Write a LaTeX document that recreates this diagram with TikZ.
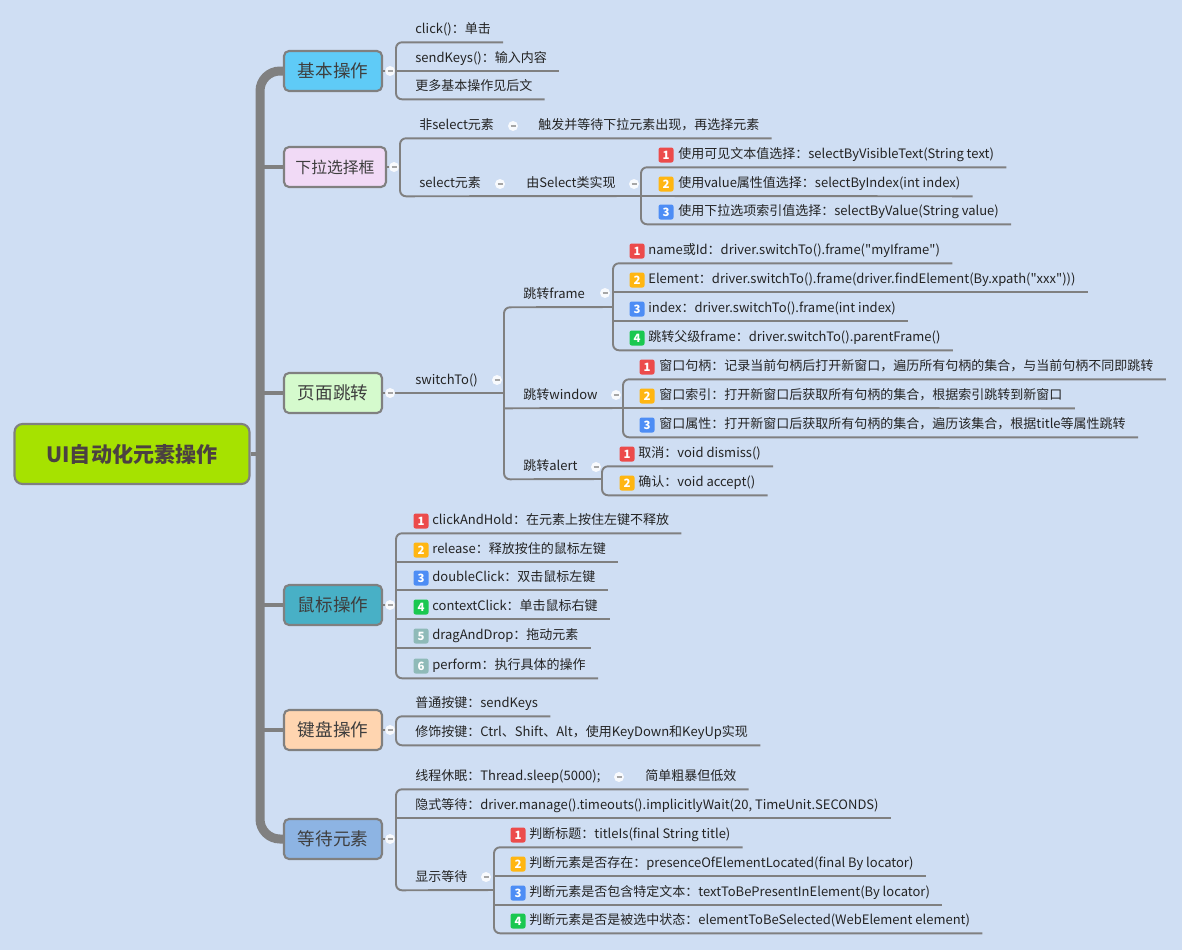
\documentclass[tikz,border=0pt]{standalone}
\usepackage{fontspec}
\setmainfont{Noto Sans CJK SC}[Ligatures=TeXOff]
\usetikzlibrary{calc,positioning}

\definecolor{bgblue}{RGB}{207,222,243}
\definecolor{linegray}{RGB}{128,128,128}
\definecolor{inkgray}{RGB}{35,35,35}
\definecolor{topicink}{RGB}{62,62,62}
\definecolor{rootgreen}{RGB}{166,226,0}
\definecolor{basiccol}{RGB}{95,203,247}
\definecolor{dropcol}{RGB}{241,218,246}
\definecolor{pagecol}{RGB}{213,250,205}
\definecolor{mousecol}{RGB}{72,176,198}
\definecolor{keycol}{RGB}{255,213,176}
\definecolor{waitcol}{RGB}{141,180,227}
\definecolor{bred}{RGB}{236,75,75}
\definecolor{borange}{RGB}{255,182,18}
\definecolor{bblue}{RGB}{77,141,245}
\definecolor{bgreen}{RGB}{26,200,80}
\definecolor{bteal}{RGB}{143,186,184}

\pgfdeclarelayer{back}
\pgfdeclarelayer{lines}
\pgfsetlayers{back,lines,main}

\def\tailgap{0.24cm}

\tikzset{
  rootbox/.style={draw=linegray, line width=1.2pt, fill=rootgreen, rounded corners=0.16cm,
    minimum width=4.7cm, minimum height=1.2cm, text={rgb,255:red,75;green,65;blue,65},
    font=\fontsize{12}{14}\selectfont\bfseries},
  topic/.style={draw=linegray, line width=1.2pt, rounded corners=0.1cm,
    minimum width=1.96cm, minimum height=0.8cm, text=topicink,
    font=\fontsize{10}{12}\selectfont},
  leaf/.style={anchor=west, inner xsep=0pt, inner ysep=3.3pt, text height=5.6pt, text depth=1.4pt,
    text=inkgray, font=\fontsize{7.4}{9}\selectfont},
  badge/.style={rounded corners=1.2pt, minimum size=0.3cm, inner sep=0pt, text=white,
    font=\fontsize{6.5}{7}\selectfont\bfseries},
  fold/.style={circle, fill=white!85!bgblue, minimum size=0.2cm, inner sep=0pt,
    path picture={\draw[linegray!70, line width=0.6pt]
      ($(path picture bounding box.center)-(0.05cm,0)$) -- ($(path picture bounding box.center)+(0.05cm,0)$);}},
  conn/.style={draw=linegray, line width=1.1pt, rounded corners=0.12cm},
  trunk/.style={draw=linegray, line width=0.18cm, rounded corners=0.4cm},
  branch/.style={draw=linegray, line width=0.08cm},
}

\begin{document}
\begin{tikzpicture}[x=0.02cm, y=-0.02cm]
\useasboundingbox (0,0) rectangle (1182,950);
\begin{pgfonlayer}{back}
  \fill[bgblue] (0,0) rectangle (1182,950);
\end{pgfonlayer}

% central topic and main topics
\node[rootbox] (root) at (132,454) {UI自动化元素操作};
\node[topic, fill=basiccol] (basic) at (333,71) {基本操作};
\node[topic, fill=dropcol, minimum width=2.04cm, font=\fontsize{9}{11}\selectfont] (drop) at (335,167) {下拉选择框};
\node[topic, fill=pagecol] (page) at (333,393) {页面跳转};
\node[topic, fill=mousecol] (mouse) at (333,605) {鼠标操作};
\node[topic, fill=keycol] (keys) at (333,730) {键盘操作};
\node[topic, fill=waitcol] (wait) at (333,839) {等待元素};
\foreach \t in {basic,drop,page,mouse,keys,wait}
  \node[fold] (\t-fold) at ([xshift=0.14cm]\t.east) {};

\coordinate (spine) at (260,454);
\coordinate (basicfork) at (396,71);
\coordinate (dropfork) at (400,167);
\coordinate (switchfork) at (504,393);
\coordinate (mousefork) at (396,605);
\coordinate (keysfork) at (396,730);
\coordinate (waitfork) at (396,839);

% basic operations
\node[leaf] (click) at (415,30) {click()：单击};
\node[leaf] (sendkeys) at (415,59) {sendKeys()：输入内容};
\node[leaf] (more) at (415,87) {更多基本操作见后文};

% drop-down box
\node[leaf] (nonsel) at (419,126) {非select元素};
\node[fold] (nonsel-fold) at (513,126) {};
\node[leaf] (trigger) at (538,126) {触发并等待下拉元素出现，再选择元素};
\node[leaf] (sel) at (419,184) {select元素};
\node[fold] (sel-fold) at (500,184) {};
\node[leaf] (selcls) at (526,184) {由Select类实现};
\node[fold] (selcls-fold) at (634,184) {};
\coordinate (selfork) at (641,196);
\node[badge, fill=bred] (vis-no) at (666,155) {1};
\node[leaf] (vis) at (678,155) {使用可见文本值选择：selectByVisibleText(String text)};
\node[badge, fill=borange] (idx-no) at (666,184) {2};
\node[leaf] (idx) at (678,184) {使用value属性值选择：selectByIndex(int index)};
\node[badge, fill=bblue] (val-no) at (666,212) {3};
\node[leaf] (val) at (678,212) {使用下拉选项索引值选择：selectByValue(String value)};

% page switching
\node[leaf] (switch) at (415,381) {switchTo()};
\node[fold] (switch-fold) at (497,380) {};
\node[leaf] (frame) at (523,295) {跳转frame};
\node[fold] (frame-fold) at (605,293) {};
\coordinate (framefork) at (613,307);
\node[badge, fill=bred] (f1-no) at (637,251) {1};
\node[leaf] (f1) at (648,251) {name或Id：driver.switchTo().frame("myIframe")};
\node[badge, fill=borange] (f2-no) at (637,280) {2};
\node[leaf] (f2) at (648,280) {Element：driver.switchTo().frame(driver.findElement(By.xpath("xxx")))};
\node[badge, fill=bblue] (f3-no) at (637,309) {3};
\node[leaf] (f3) at (648,309) {index：driver.switchTo().frame(int index)};
\node[badge, fill=bgreen] (f4-no) at (637,338) {4};
\node[leaf] (f4) at (648,338) {跳转父级frame：driver.switchTo().parentFrame()};
\node[leaf] (window) at (523,396) {跳转window};
\node[fold] (window-fold) at (616,395) {};
\coordinate (windowfork) at (623,408);
\node[badge, fill=bred] (w1-no) at (647,367) {1};
\node[leaf] (w1) at (659,367) {窗口句柄：记录当前句柄后打开新窗口，遍历所有句柄的集合，与当前句柄不同即跳转};
\node[badge, fill=borange] (w2-no) at (647,396) {2};
\node[leaf] (w2) at (659,396) {窗口索引：打开新窗口后获取所有句柄的集合，根据索引跳转到新窗口};
\node[badge, fill=bblue] (w3-no) at (647,425) {3};
\node[leaf] (w3) at (659,425) {窗口属性：打开新窗口后获取所有句柄的集合，遍历该集合，根据title等属性跳转};
\node[leaf] (alert) at (523,467) {跳转alert};
\node[fold] (alert-fold) at (596,467) {};
\coordinate (alertfork) at (602,479);
\node[badge, fill=bred] (a1-no) at (627,454) {1};
\node[leaf] (a1) at (638,454) {取消：void dismiss()};
\node[badge, fill=borange] (a2-no) at (627,483) {2};
\node[leaf] (a2) at (638,483) {确认：void accept()};

% mouse operations
\node[badge, fill=bred] (m1-no) at (421,521) {1};
\node[leaf] (m1) at (432,521) {clickAndHold：在元素上按住左键不释放};
\node[badge, fill=borange] (m2-no) at (421,550) {2};
\node[leaf] (m2) at (432,550) {release：释放按住的鼠标左键};
\node[badge, fill=bblue] (m3-no) at (421,578) {3};
\node[leaf] (m3) at (432,578) {doubleClick：双击鼠标左键};
\node[badge, fill=bgreen] (m4-no) at (421,607) {4};
\node[leaf] (m4) at (432,607) {contextClick：单击鼠标右键};
\node[badge, fill=bteal] (m5-no) at (421,636) {5};
\node[leaf] (m5) at (432,636) {dragAndDrop：拖动元素};
\node[badge, fill=bteal] (m6-no) at (421,666) {6};
\node[leaf] (m6) at (432,666) {perform：执行具体的操作};

% keyboard operations
\node[leaf] (plain) at (415,704) {普通按键：sendKeys};
\node[leaf] (modkeys) at (415,733) {修饰按键：Ctrl、Shift、Alt，使用KeyDown和KeyUp实现};

% waiting
\node[leaf] (sleep) at (415,777) {线程休眠：Thread.sleep(5000);};
\node[fold] (sleep-fold) at (619,777) {};
\node[leaf] (crude) at (645,777) {简单粗暴但低效};
\node[leaf] (implicit) at (415,806) {隐式等待：driver.manage().timeouts().implicitlyWait(20, TimeUnit.SECONDS)};
\node[leaf] (explicit) at (415,878) {显示等待};
\node[fold] (explicit-fold) at (486,877) {};
\coordinate (explicitfork) at (494,890);
\node[badge, fill=bred] (e1-no) at (518,835) {1};
\node[leaf] (e1) at (529,835) {判断标题：titleIs(final String title)};
\node[badge, fill=borange] (e2-no) at (518,864) {2};
\node[leaf] (e2) at (529,864) {判断元素是否存在：presenceOfElementLocated(final By locator)};
\node[badge, fill=bblue] (e3-no) at (518,893) {3};
\node[leaf] (e3) at (529,893) {判断元素是否包含特定文本：textToBePresentInElement(By locator)};
\node[badge, fill=bgreen] (e4-no) at (518,921) {4};
\node[leaf] (e4) at (529,921) {判断元素是否是被选中状态：elementToBeSelected(WebElement element)};

% connectors
\begin{pgfonlayer}{lines}
  \draw[trunk] (basic.west) -- (basic.west -| spine) -- (wait.west -| spine) -- (wait.west);
  \draw[branch] (root.east) -- (spine);
  \foreach \t in {drop,page,mouse,keys}
    \draw[branch] (\t.west -| spine) -- (\t.west);

  \draw[conn] (basic.east) -- (basicfork);
  \draw[conn] ([xshift=\tailgap]click.south east) -- (click.south -| basicfork) -- (more.south -| basicfork) -- ([xshift=\tailgap]more.south east);
  \draw[conn] (sendkeys.south -| basicfork) -- ([xshift=\tailgap]sendkeys.south east);

  \draw[conn] (drop.east) -- (dropfork);
  \draw[conn] ([xshift=\tailgap]trigger.south east) -- (nonsel.south -| dropfork) -- (sel.south -| dropfork) -- (selfork);
  \draw[conn] ([xshift=\tailgap]vis.south east) -- (vis.south -| selfork) -- (val.south -| selfork) -- ([xshift=\tailgap]val.south east);
  \draw[conn] (selfork) -- ([xshift=\tailgap]idx.south east);

  \draw[conn] (page.east) -- (switchfork);
  \draw[conn] (framefork) -- (frame.south -| switchfork) -- (alert.south -| switchfork) -- (alertfork);
  \draw[conn] (window.south -| switchfork) -- (windowfork);
  \draw[conn] ([xshift=\tailgap]f1.south east) -- (f1.south -| framefork) -- (f4.south -| framefork) -- ([xshift=\tailgap]f4.south east);
  \draw[conn] (f2.south -| framefork) -- ([xshift=\tailgap]f2.south east);
  \draw[conn] (f3.south -| framefork) -- ([xshift=\tailgap]f3.south east);
  \draw[conn] ([xshift=\tailgap]w1.south east) -- (w1.south -| windowfork) -- (w3.south -| windowfork) -- ([xshift=\tailgap]w3.south east);
  \draw[conn] (windowfork) -- ([xshift=\tailgap]w2.south east);
  \draw[conn] ([xshift=\tailgap]a1.south east) -- (a1.south -| alertfork) -- (a2.south -| alertfork) -- ([xshift=\tailgap]a2.south east);

  \draw[conn] (mouse.east) -- (mousefork);
  \draw[conn] ([xshift=\tailgap]m1.south east) -- (m1.south -| mousefork) -- (m6.south -| mousefork) -- ([xshift=\tailgap]m6.south east);
  \foreach \m in {m2,m3,m4,m5}
    \draw[conn] (\m.south -| mousefork) -- ([xshift=\tailgap]\m.south east);

  \draw[conn] (keys.east) -- (keysfork);
  \draw[conn] ([xshift=\tailgap]plain.south east) -- (plain.south -| keysfork) -- (modkeys.south -| keysfork) -- ([xshift=\tailgap]modkeys.south east);

  \draw[conn] (wait.east) -- (waitfork);
  \draw[conn] ([xshift=\tailgap]crude.south east) -- (sleep.south -| waitfork) -- (explicit.south -| waitfork) -- (explicitfork);
  \draw[conn] (implicit.south -| waitfork) -- ([xshift=\tailgap]implicit.south east);
  \draw[conn] ([xshift=\tailgap]e1.south east) -- (e1.south -| explicitfork) -- (e4.south -| explicitfork) -- ([xshift=\tailgap]e4.south east);
  \draw[conn] (e2.south -| explicitfork) -- ([xshift=\tailgap]e2.south east);
  \draw[conn] (e3.south -| explicitfork) -- ([xshift=\tailgap]e3.south east);
\end{pgfonlayer}
\end{tikzpicture}
\end{document}
